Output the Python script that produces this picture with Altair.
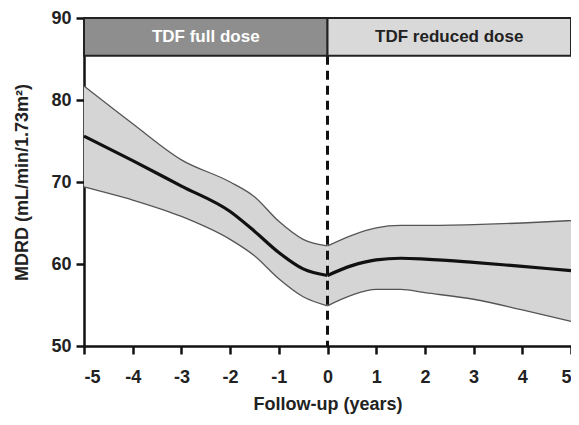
import altair as alt
import pandas as pd

# ---- data ----
years_full = [-5, -4, -3, -2, -1.5, -1, -0.5, 0]
mean_full = [75.6, 72.6, 69.5, 66.4, 64.0, 61.4, 59.4, 58.6]
upper_full = [81.7, 77.1, 72.7, 70.0, 68.2, 65.2, 63.0, 62.2]
lower_full = [69.4, 67.8, 65.8, 63.0, 61.0, 58.2, 56.0, 54.9]

years_red = [0, 0.5, 1, 1.5, 2, 3, 4, 5]
mean_red = [58.6, 59.8, 60.5, 60.7, 60.6, 60.2, 59.7, 59.2]
upper_red = [62.2, 63.5, 64.4, 64.7, 64.7, 64.8, 65.0, 65.3]
lower_red = [54.9, 56.2, 56.9, 56.9, 56.5, 55.7, 54.4, 53.0]

phase_labels = ["TDF full dose", "TDF reduced dose"]
phase_start = [-5, 0]
phase_end = [0, 5]
phase_fill = ["#8e8e8e", "#d9d9d9"]
phase_text = ["#ffffff", "#222222"]
header_top = 90
header_bottom = 85.4

x_ticks = [-5, -4, -3, -2, -1, 0, 1, 2, 3, 4, 5]
y_ticks = [50, 60, 70, 80, 90]

# ---- tables ----
df = pd.DataFrame({
    "year": years_full + years_red,
    "mean": mean_full + mean_red,
    "upper": upper_full + upper_red,
    "lower": lower_full + lower_red,
    "phase": ["full"] * len(years_full) + ["reduced"] * len(years_red),
})
hdr = pd.DataFrame({
    "label": phase_labels,
    "start": phase_start,
    "end": phase_end,
    "mid": [(a + b) / 2 for a, b in zip(phase_start, phase_end)],
    "fill": phase_fill,
    "tcolor": phase_text,
    "top": [header_top] * 2,
    "bottom": [header_bottom] * 2,
    "ymid": [(header_top + header_bottom) / 2] * 2,
})
switch = pd.DataFrame({"year": [0], "top": [header_bottom], "bottom": [50]})

FONT = "Liberation Sans"
xs = alt.Scale(domain=[-5, 5], nice=False, zero=False)
ys = alt.Scale(domain=[50, 90], nice=False, zero=False)

x_enc = alt.X(
    "year:Q", scale=xs,
    axis=alt.Axis(values=x_ticks, title="Follow-up (years)", labelPadding=14,
                  titlePadding=9, labelExpr="'' + datum.value"),
)
y_axis = alt.Axis(values=y_ticks, title="MDRD (mL/min/1.73m²)", labelPadding=5,
                  titlePadding=19)

base = alt.Chart(df)

band = base.mark_area(color="#d5d5d5", interpolate="monotone").encode(
    x=x_enc,
    y=alt.Y("lower:Q", scale=ys, axis=y_axis),
    y2="upper:Q",
    detail="phase:N",
)
up_line = base.mark_line(color="#555555", strokeWidth=1.3, interpolate="monotone").encode(
    x=alt.X("year:Q", scale=xs), y=alt.Y("upper:Q", scale=ys), detail="phase:N"
)
lo_line = base.mark_line(color="#555555", strokeWidth=1.3, interpolate="monotone").encode(
    x=alt.X("year:Q", scale=xs), y=alt.Y("lower:Q", scale=ys), detail="phase:N"
)
mean_line = base.mark_line(color="#111111", strokeWidth=3.2, interpolate="monotone").encode(
    x=alt.X("year:Q", scale=xs), y=alt.Y("mean:Q", scale=ys), detail="phase:N"
)
rule = alt.Chart(switch).mark_rule(color="#111111", strokeWidth=3, strokeDash=[9, 6]).encode(
    x=alt.X("year:Q", scale=xs), y=alt.Y("top:Q", scale=ys), y2="bottom:Q"
)
boxes = alt.Chart(hdr).mark_rect(stroke="#222222", strokeWidth=2).encode(
    x=alt.X("start:Q", scale=xs), x2="end:Q",
    y=alt.Y("top:Q", scale=ys), y2="bottom:Q",
    fill=alt.Color("fill:N", scale=None),
)
labels = alt.Chart(hdr).mark_text(font=FONT, fontSize=17, fontWeight="bold",
                                  baseline="middle", align="center").encode(
    x=alt.X("mid:Q", scale=xs), y=alt.Y("ymid:Q", scale=ys),
    text="label:N", color=alt.Color("tcolor:N", scale=None),
)

chart = alt.layer(band, up_line, lo_line, mean_line, rule, boxes, labels).properties(
    width=487, height=328,
    autosize=alt.AutoSizeParams(type="none"),
    padding={"left": 76, "top": 10, "right": 0, "bottom": 70},
).configure_view(stroke=None).configure_axis(
    domainColor="#111111", domainWidth=2.5, tickColor="#111111", tickWidth=2.5,
    tickSize=8, grid=False, labelFont=FONT, labelFontSize=18, labelFontWeight="bold",
    labelColor="#222222", titleFont=FONT, titleFontSize=18, titleFontWeight="bold",
    titleColor="#222222", zindex=1,
)

chart.save("out.html", embed_options={"renderer": "svg", "actions": False})
